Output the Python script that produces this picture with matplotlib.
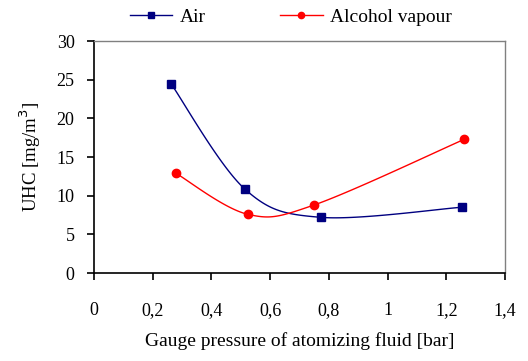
import numpy as np
import matplotlib.pyplot as plt

pressure_air = [0.262, 0.514, 0.772, 1.252]
uhc_air = [24.5, 10.85, 7.2, 8.5]
pressure_alc = [0.279, 0.523, 0.75, 1.262]
uhc_alc = [12.9, 7.6, 8.8, 17.3]
x_ticks = [0, 0.2, 0.4, 0.6, 0.8, 1, 1.2, 1.4]
x_labels = ["0", "0,2", "0,4", "0,6", "0,8", "1", "1,2", "1,4"]
y_ticks = [0, 5, 10, 15, 20, 25, 30]


def smooth(xs, ys, n=40):
    # catmull-rom like excel's smoothed line
    pts = np.column_stack([xs, ys])
    pts = np.vstack([pts[0], pts, pts[-1]])
    out = []
    for i in range(1, len(pts) - 2):
        p0, p1, p2, p3 = pts[i - 1], pts[i], pts[i + 1], pts[i + 2]
        t = np.linspace(0, 1, n)[:, None]
        c = 0.5 * ((2 * p1) + (-p0 + p2) * t + (2 * p0 - 5 * p1 + 4 * p2 - p3) * t ** 2
                   + (-p0 + 3 * p1 - 3 * p2 + p3) * t ** 3)
        out.append(c)
    out = np.vstack(out)
    return out[:, 0], out[:, 1]


plt.rcParams['font.family'] = ['Liberation Serif', 'DejaVu Serif']
fig = plt.figure(figsize=(5.28, 3.61), dpi=100)
ax = fig.add_axes([94 / 528, 1 - 273 / 361, 411 / 528, 232 / 361])

navy = '#000080'
red = '#ff0000'
sx, sy = smooth(pressure_air, uhc_air)
ax.plot(sx, sy, color=navy, lw=1)
ax.plot(pressure_air, uhc_air, 's', color=navy, ms=5.5)
sx, sy = smooth(pressure_alc, uhc_alc)
ax.plot(sx, sy, color=red, lw=1)
ax.plot(pressure_alc, uhc_alc, 'o', color=red, ms=6)

# legend handles
ax.plot([], [], '-s', color=navy, lw=1, ms=4, label='Air')
ax.plot([], [], '-o', color=red, lw=1, ms=4.5, label='Alcohol vapour')
handles, labels = ax.get_legend_handles_labels()
fig.legend(handles, labels, loc='center left', bbox_to_anchor=(112 / 528, 1 - 17 / 361),
           ncol=2, frameon=False, fontsize=14, columnspacing=3.8, handlelength=2.2,
           handletextpad=0.4)

ax.set_xlim(0, 1.4)
ax.set_ylim(0, 30)
ax.set_xticks(x_ticks)
ax.set_xticklabels(x_labels)
ax.set_yticks(y_ticks)
ax.tick_params(axis='both', direction='out', length=5, width=1.2, labelsize=13, color='black')
ax.tick_params(axis='x', pad=16)
ax.tick_params(axis='y', pad=9)
for s in ['left', 'bottom']:
    ax.spines[s].set_color('black')
    ax.spines[s].set_linewidth(1.2)
for s in ['top', 'right']:
    ax.spines[s].set_color('#808080')
    ax.spines[s].set_linewidth(1)

ax.set_xlabel('Gauge pressure of atomizing fluid [bar]', fontsize=14, labelpad=9)
ax.set_ylabel('UHC [mg/m$^3$]', fontsize=13.5, labelpad=10)

fig.savefig('out.png', dpi=100)
